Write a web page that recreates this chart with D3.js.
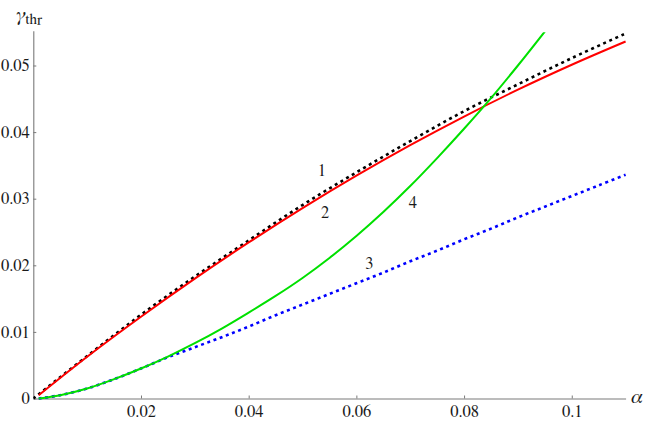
<!DOCTYPE html>
<html>
<head>
<meta charset="utf-8">
<script src="https://cdn.jsdelivr.net/npm/d3@7"></script>
<style>
  body { margin: 0; background: #fff; }
  svg text { font-family: FreeSerif, "Times New Roman", serif; fill: #1a1a1a; }
</style>
</head>
<body>
<div id="chart"></div>
<script>
// alpha grids and gamma_thr values
const alphaRed = [0.001, 0.01, 0.02, 0.03, 0.04, 0.05, 0.06, 0.07, 0.08, 0.09, 0.10, 0.11];
const gammaRed = [0.0005, 0.00628, 0.01228, 0.0180, 0.02343, 0.02858, 0.03345, 0.03804, 0.04234, 0.04637, 0.05011, 0.0536];

const alphaBlack = [0.0, 0.01, 0.02, 0.03, 0.04, 0.05, 0.06, 0.07, 0.08, 0.09, 0.10, 0.11];
const gammaBlack = [0.0, 0.00638, 0.01258, 0.0183, 0.02373, 0.02905, 0.03395, 0.03864, 0.04314, 0.04717, 0.05111, 0.0548];

const alphaBlue = [0.001, 0.005, 0.01, 0.015, 0.02, 0.025, 0.03, 0.035, 0.04, 0.045, 0.05, 0.055,
  0.06, 0.065, 0.07, 0.075, 0.08, 0.085, 0.09, 0.095, 0.10, 0.105, 0.11];
const gammaBlue = [0.0, 0.0005, 0.0015, 0.0029, 0.0045, 0.0062, 0.0077, 0.0092, 0.0108, 0.0125, 0.0141, 0.0157,
  0.0173, 0.0189, 0.0206, 0.0222, 0.0239, 0.0255, 0.0272, 0.0288, 0.0304, 0.0320, 0.0336];

const alphaGreen = [0.001, 0.005, 0.01, 0.015, 0.02, 0.025, 0.03, 0.035, 0.04, 0.045, 0.05, 0.055,
  0.06, 0.065, 0.07, 0.075, 0.08, 0.085, 0.09, 0.095];
const gammaGreen = [0.0, 0.0005, 0.0015, 0.0029, 0.0045, 0.0063, 0.0083, 0.0105, 0.0129, 0.0154, 0.0181, 0.0211,
  0.0244, 0.0280, 0.0319, 0.0361, 0.0405, 0.0451, 0.0500, 0.0551];

const xTicks = [0.02, 0.04, 0.06, 0.08, 0.1];
const xTickLabels = ["0.02", "0.04", "0.06", "0.08", "0.1"];
const yTicks = [0, 0.01, 0.02, 0.03, 0.04, 0.05];
const yTickLabels = ["0", "0.01", "0.02", "0.03", "0.04", "0.05"];

const curveNames = ["1", "2", "3", "4"];
const curveNameAlpha = [0.0536, 0.0542, 0.0624, 0.0705];
const curveNameGamma = [0.0343, 0.0280, 0.0203, 0.0295];

const width = 648, height = 424;
const serif = 'FreeSerif, "Times New Roman", serif';

const svg = d3.select("#chart")
  .append("svg")
  .attr("width", width)
  .attr("height", height);

const xScale = d3.scaleLinear()
  .domain([0, 0.11])
  .range([33.3, 625.6]);

const yScale = d3.scaleLinear()
  .domain([0, 0.055])
  .range([398.5, 32.2]);

// clip to the plot range, like the original
svg.append("clipPath")
  .attr("id", "plot")
  .append("rect")
  .attr("x", xScale(0))
  .attr("y", yScale(0.055))
  .attr("width", xScale(0.11) - xScale(0) + 2)
  .attr("height", yScale(0) - yScale(0.055) + 2);

const series = [
  { a: alphaBlack, g: gammaBlack, color: "#000000", dash: "3,3.6", w: 2.6 },
  { a: alphaRed, g: gammaRed, color: "#ff0000", dash: null, w: 2 },
  { a: alphaBlue, g: gammaBlue, color: "#0000ff", dash: "3,3.6", w: 2.6 },
  { a: alphaGreen, g: gammaGreen, color: "#00e000", dash: null, w: 2 }
];

const line = d3.line()
  .curve(d3.curveCatmullRom)
  .x(d => xScale(d[0]))
  .y(d => yScale(d[1]));

// axes
const xAxis = d3.axisBottom(xScale)
  .tickValues(xTicks)
  .tickFormat((d, i) => xTickLabels[i])
  .tickSizeInner(-3)
  .tickSizeOuter(0)
  .tickPadding(6.3);

const yAxis = d3.axisLeft(yScale)
  .tickValues(yTicks)
  .tickFormat((d, i) => yTickLabels[i])
  .tickSizeInner(-3)
  .tickSizeOuter(0)
  .tickPadding(3.5);

const gx = svg.append("g")
  .attr("transform", `translate(0,${yScale(0)})`)
  .call(xAxis);

const gy = svg.append("g")
  .attr("transform", `translate(${xScale(0)},0)`)
  .call(yAxis);

[gx, gy].forEach(g => {
  g.attr("font-family", serif).attr("font-size", 16.5);
  g.select(".domain").attr("stroke", "#7a7a7a").attr("stroke-width", 1.1);
  g.selectAll(".tick line").attr("stroke", "#7a7a7a");
  g.selectAll(".tick text")
    .attr("fill", "#1a1a1a")
    .style("font-family", serif)
    .style("font-size", "16.5px");
});
gy.select(".domain").attr("d", `M0.5,${yScale(0)}V${yScale(0.055) - 1}`);

// curves
svg.append("g")
  .attr("clip-path", "url(#plot)")
  .selectAll("path")
  .data(series)
  .join("path")
    .attr("d", s => line(s.a.map((a, i) => [a, s.g[i]])))
    .attr("fill", "none")
    .attr("stroke", s => s.color)
    .attr("stroke-width", s => s.w)
    .attr("stroke-dasharray", s => s.dash);

// curve numbers
svg.selectAll("text.name")
  .data(curveNames)
  .join("text")
    .attr("class", "name")
    .attr("x", (d, i) => xScale(curveNameAlpha[i]))
    .attr("y", (d, i) => yScale(curveNameGamma[i]))
    .attr("dy", "0.35em")
    .attr("text-anchor", "middle")
    .style("font-family", serif)
    .style("font-size", "16.5px")
    .text(d => d);

// axis labels
svg.append("text")
  .attr("x", 631)
  .attr("y", 403)
  .style("font-family", serif)
  .style("font-size", "21px")
  .style("font-style", "italic")
  .text("α");

const yl = svg.append("text")
  .attr("x", 16)
  .attr("y", 21)
  .style("font-family", serif)
  .style("font-size", "20px");
yl.append("tspan")
  .style("font-style", "italic")
  .text("γ");
yl.append("tspan")
  .attr("dy", 3)
  .style("font-size", "15px")
  .text("thr");
</script>
</body>
</html>
